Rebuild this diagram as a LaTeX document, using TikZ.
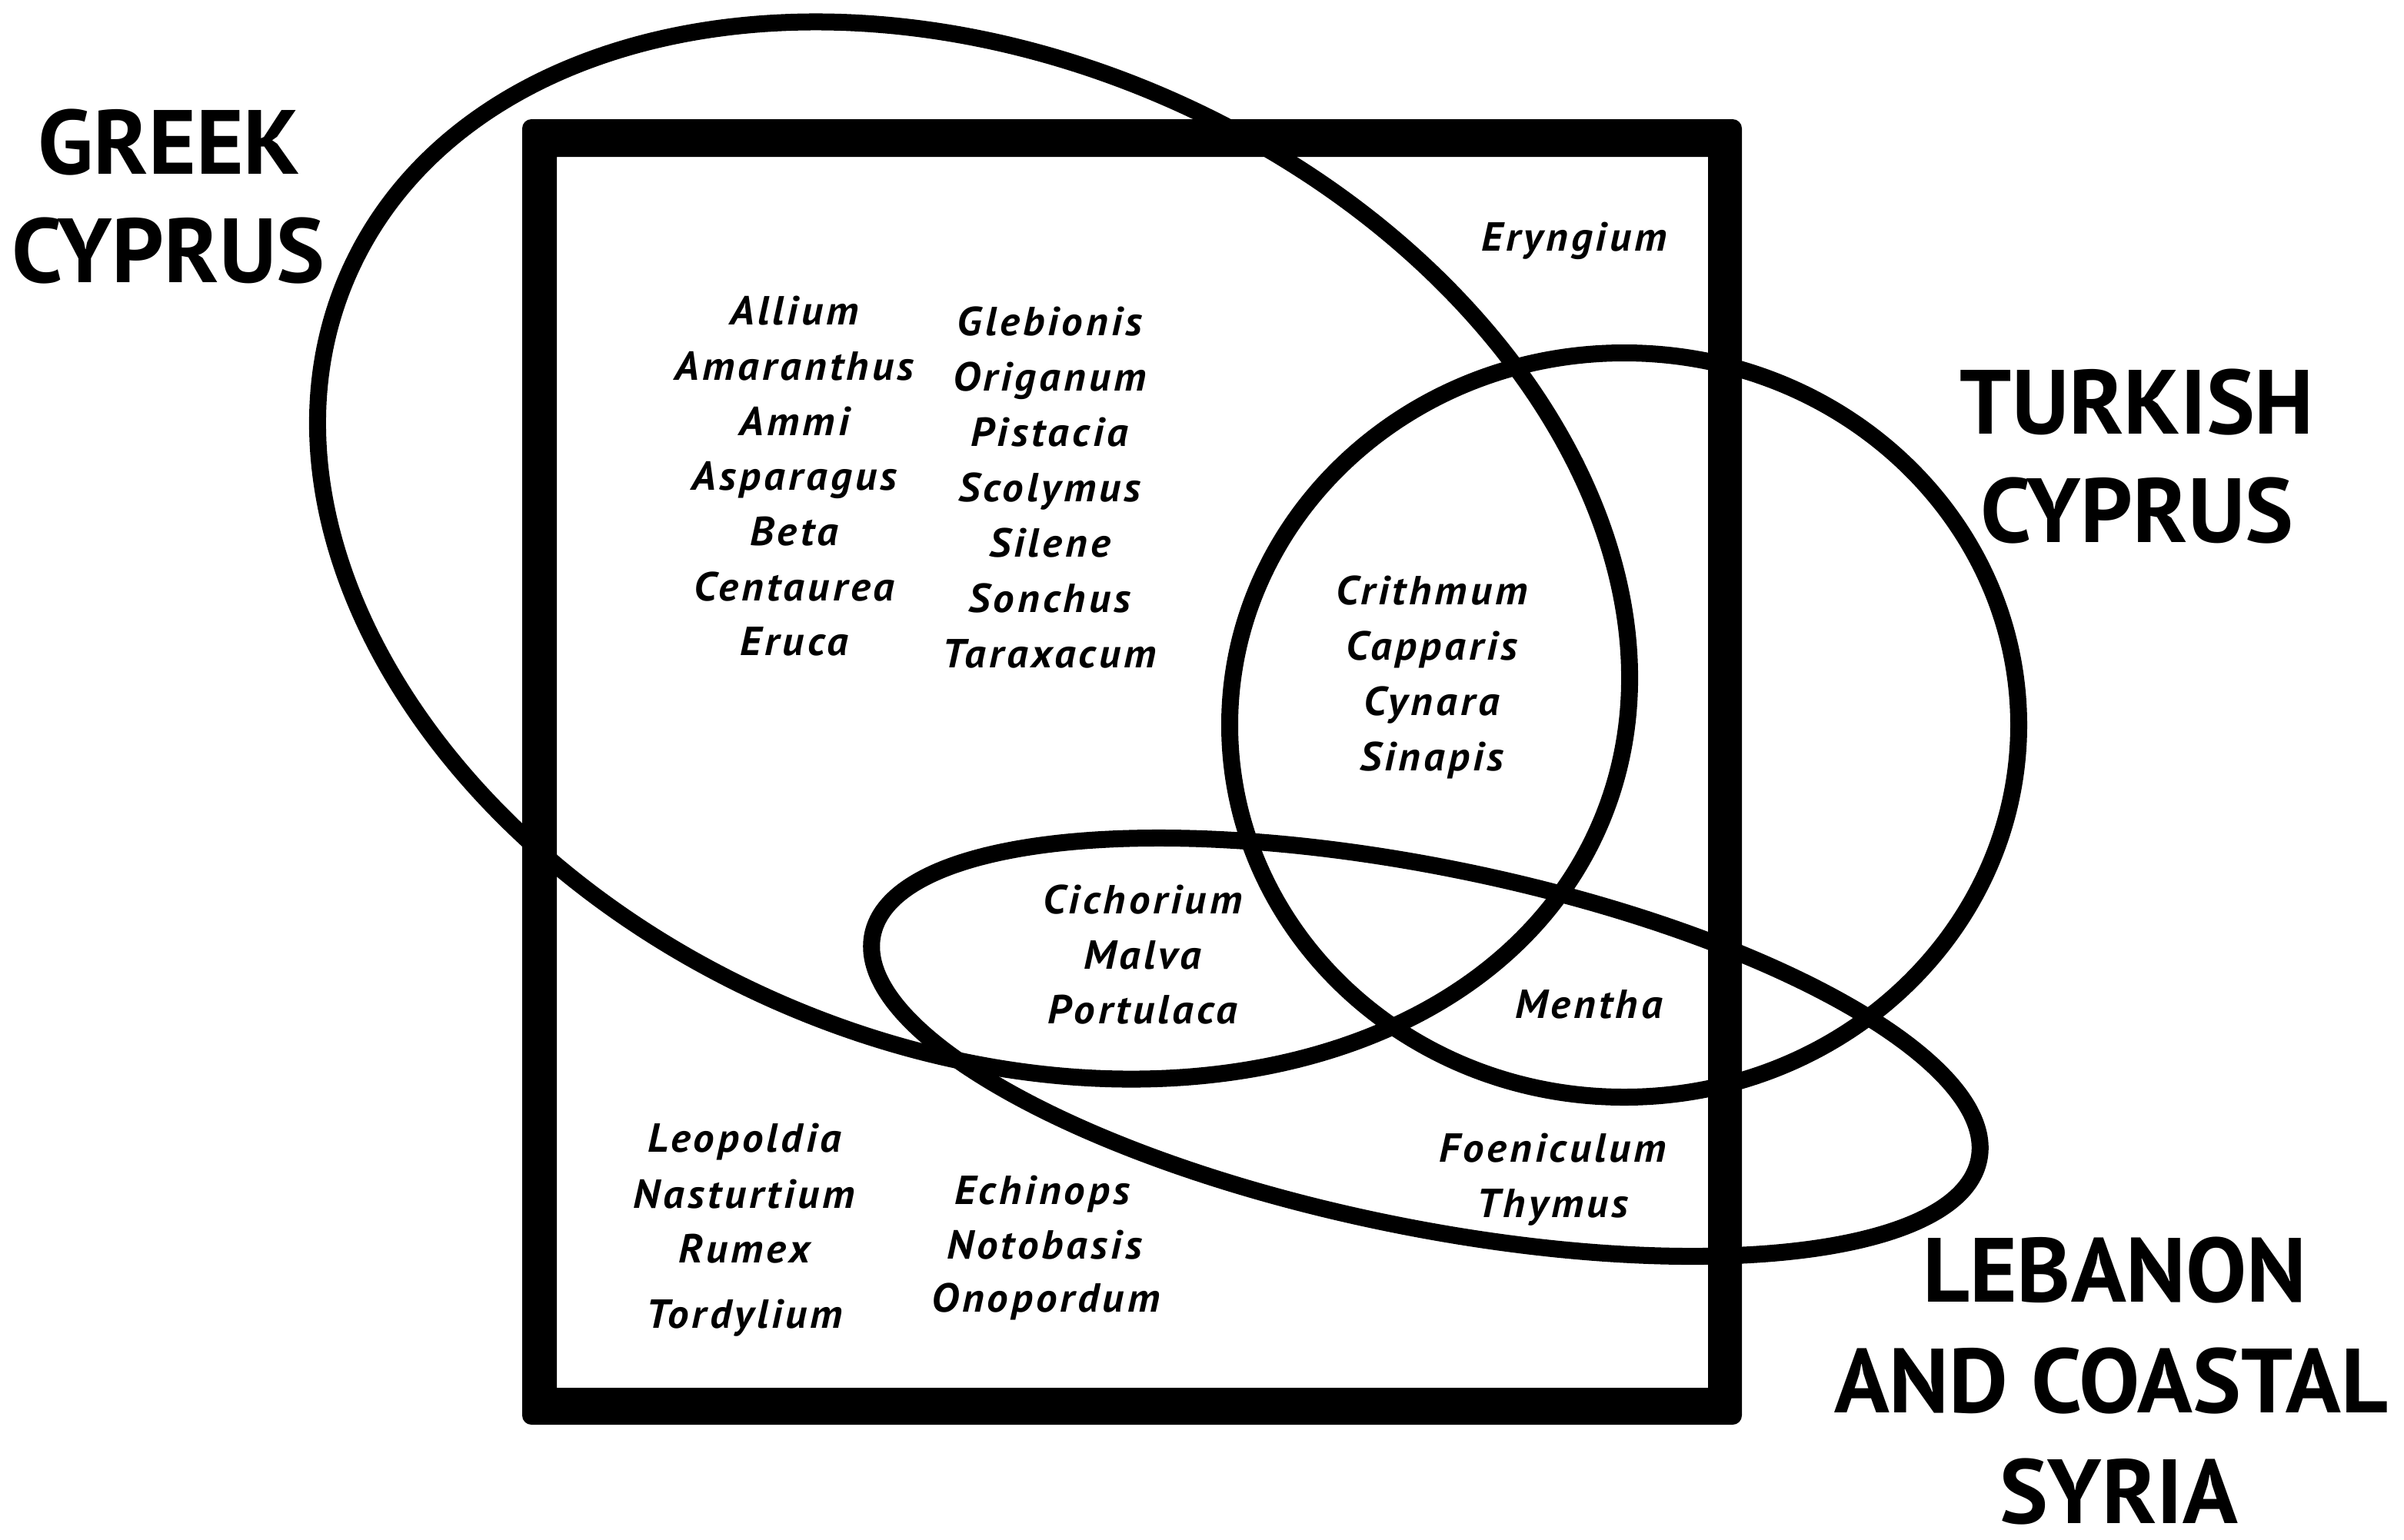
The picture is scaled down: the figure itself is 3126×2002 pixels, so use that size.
\documentclass[tikz,border=0pt]{standalone}
\usepackage{fontspec}
\setmainfont{PT Sans}
\newfontfamily\regionface{PT Sans}
\newfontfamily\taxonface{PT Sans}[LetterSpace=8,FakeStretch=1.04]
\begin{document}
\begin{tikzpicture}[x=0.01cm,y=-0.01cm,
  venn/.style={line width=0.22cm},
  region/.style={font=\regionface\bfseries\fontsize{33.7}{40}\selectfont, anchor=base, inner sep=0, text depth=0pt},
  taxon/.style={font=\taxonface\bfseries\itshape\fontsize{15}{18}\selectfont, anchor=base, inner sep=0}]
\useasboundingbox (0,0) rectangle (3126,2002);
% frame
\fill[even odd rule] [rounded corners=0.12cm] (679,155) rectangle (2265,1853) [sharp corners] (724,204) rectangle (2221,1805);
% Greek Cyprus
\draw[venn, rotate around={-24:(1266,716)}] (1266,716) ellipse [x radius=889, y radius=640];
% Turkish Cyprus
\draw[venn] (2112,943) ellipse [x radius=513, y radius=484];
% Lebanon and coastal Syria
\draw[venn, rotate around={-11.5:(1854,1362)}] (1854,1362) ellipse [x radius=734, y radius=234];
% region labels
\node[region] (g1) at (220,226) {GREEK};
\node[region] (g2) at (219,367) {CYPRUS};
\node[region] (t1) at (2779,564) {TURKISH};
\node[region] (t2) at (2779,705) {CYPRUS};
\node[region] (l1) at (2750,1693) {LEBANON};
\node[region] (l2) at (2745,1837) {AND COASTAL};
\node[region] (l3) at (2755,1981) {SYRIA};
% Greek only
\node[taxon] (a1) at (1033,422) {Allium};
\node[taxon] (a2) at (1033,494) {Amaranthus};
\node[taxon] (a3) at (1033,566) {Ammi};
\node[taxon] (a4) at (1033,637) {Asparagus};
\node[taxon] (a5) at (1033,709) {Beta};
\node[taxon] (a6) at (1033,781) {Centaurea};
\node[taxon] (a7) at (1033,852) {Eruca};
\node[taxon] (b1) at (1365,436) {Glebionis};
\node[taxon] (b2) at (1365,508) {Origanum};
\node[taxon] (b3) at (1365,580) {Pistacia};
\node[taxon] (b4) at (1365,652) {Scolymus};
\node[taxon] (b5) at (1365,724) {Silene};
\node[taxon] (b6) at (1365,796) {Sonchus};
\node[taxon] (b7) at (1365,868) {Taraxacum};
% none
\node[taxon] (e1) at (2047,326) {Eryngium};
% Greek and Turkish
\node[taxon] (c1) at (1862,786) {Crithmum};
\node[taxon] (c2) at (1862,858) {Capparis};
\node[taxon] (c3) at (1862,930) {Cynara};
\node[taxon] (c4) at (1862,1002) {Sinapis};
% Greek and Lebanon
\node[taxon] (d1) at (1486,1188) {Cichorium};
\node[taxon] (d2) at (1486,1260) {Malva};
\node[taxon] (d3) at (1486,1331) {Portulaca};
% Turkish and Lebanon
\node[taxon] (m1) at (2066,1324) {Mentha};
% Lebanon only
\node[taxon] (f1) at (2019,1511) {Foeniculum};
\node[taxon] (f2) at (2019,1583) {Thymus};
% outside all (lower left)
\node[taxon] (n1) at (968,1498) {Leopoldia};
\node[taxon] (n2) at (968,1571) {Nasturtium};
\node[taxon] (n3) at (968,1642) {Rumex};
\node[taxon] (n4) at (968,1727) {Tordylium};
\node[taxon] (o1) at (1355,1566) {Echinops};
\node[taxon] (o2) at (1358,1637) {Notobasis};
\node[taxon] (o3) at (1360,1706) {Onopordum};
\end{tikzpicture}
\end{document}
